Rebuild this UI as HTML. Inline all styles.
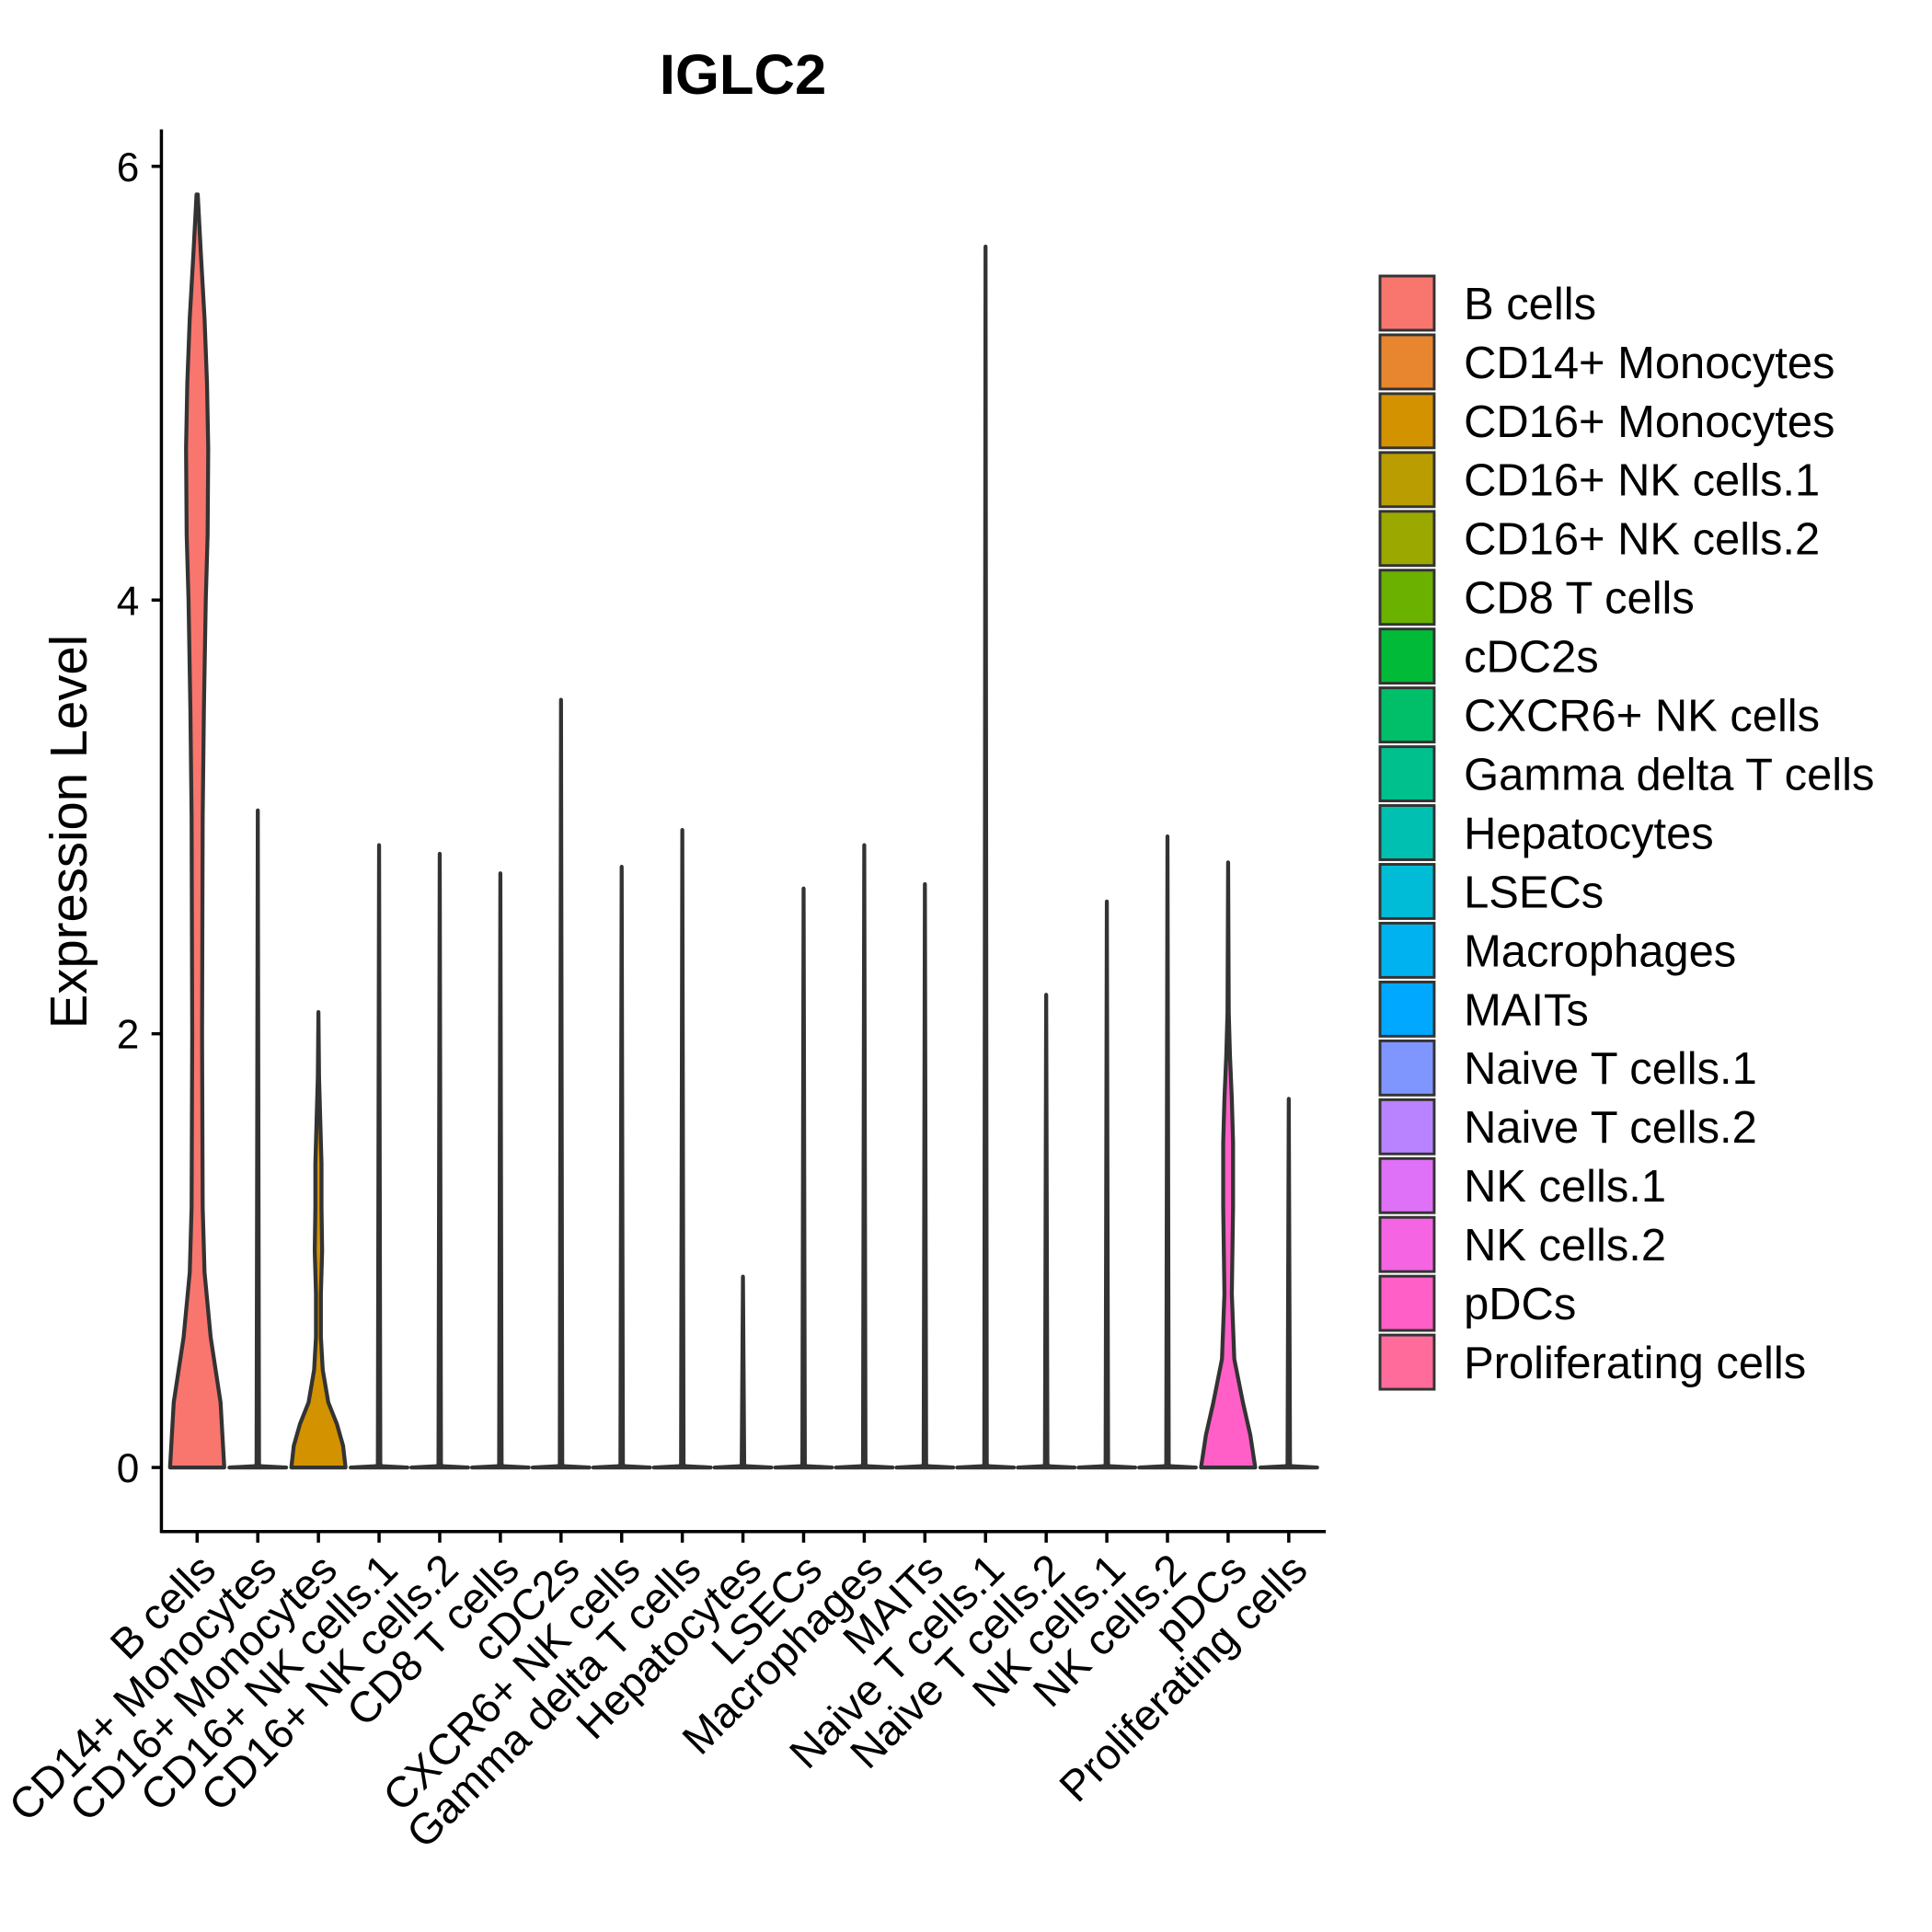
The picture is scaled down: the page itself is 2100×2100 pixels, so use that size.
<!DOCTYPE html>
<html><head><meta charset="utf-8"><style>
html,body{margin:0;padding:0;background:#fff}
svg{display:block;font-family:"Liberation Sans",Arial,sans-serif}
</style></head><body>
<svg id="chart" width="2100" height="2100" viewBox="0 0 1568 1568" xmlns="http://www.w3.org/2000/svg">
<text x="603" y="76" font-size="46" font-weight="bold" text-anchor="middle">IGLC2</text>
<text transform="translate(70,675) rotate(-90)" font-size="42" text-anchor="middle">Expression Level</text>
<g id="violins"></g>
<line x1="131" y1="105" x2="131" y2="1244" stroke="#000" stroke-width="2.6"/>
<line x1="130" y1="1243" x2="1076" y2="1243" stroke="#000" stroke-width="2.6"/>
<g id="yticks"></g>
<g id="xticks"></g>
<g id="legend"></g>
</svg>
<script>
const categories=["B cells","CD14+ Monocytes","CD16+ Monocytes","CD16+ NK cells.1","CD16+ NK cells.2","CD8 T cells","cDC2s","CXCR6+ NK cells","Gamma delta T cells","Hepatocytes","LSECs","Macrophages","MAITs","Naive T cells.1","Naive T cells.2","NK cells.1","NK cells.2","pDCs","Proliferating cells"];
const colors=["#F8766D","#E8852F","#D39200","#BA9D00","#9AA800","#6BB100","#00BA38","#00BF68","#00C08E","#00C0B2","#00BCD6","#00B3F0","#00A9FF","#7F96FF","#B983FF","#DF70F8","#F564E3","#FF5FC6","#FF6C9C"];
const maxValues=[5.87,3.03,2.1,2.87,2.83,2.74,3.54,2.77,2.94,0.88,2.67,2.87,2.69,5.63,2.18,2.61,2.91,2.79,1.70];
const bcellsY=[0,0.3,0.6,0.9,1.2,2.0,3.0,3.5,4.0,4.3,4.7,5.0,5.3,5.6,5.87];
const bcellsW=[22,19,11,6,4.5,4,4.5,5.5,7,8.5,9,8,6,3,0.5];
const mono16Y=[0,0.1,0.2,0.3,0.45,0.6,0.8,1.0,1.2,1.4,1.6,1.8,2.1];
const mono16W=[22,20,15,8,3.5,2,2,3,2.5,2.5,1.5,0.5,0];
const pdcY=[0,0.15,0.3,0.5,0.8,1.2,1.5,1.7,1.9,2.1,2.79];
const pdcW=[22,18,12,5,3,4,4,3,1.5,0.5,0];
const yTicks=[0,2,4,6];
const profiles={0:[bcellsY,bcellsW],2:[mono16Y,mono16W],17:[pdcY,pdcW]};
const NS="http://www.w3.org/2000/svg";
const ys=v=>1191-v*176;
const xs=i=>160+i*49.22;
function mk(t,a,p){const e=document.createElementNS(NS,t);for(const k in a)e.setAttribute(k,a[k]);p.appendChild(e);return e;}
const vg=document.getElementById('violins');
categories.forEach((c,i)=>{
  let Y,W;
  if(profiles[i]){Y=profiles[i][0];W=profiles[i][1];}
  else{Y=[0,0.006,0.015,maxValues[i]];W=[23,2,1,0];}
  const sc=maxValues[i]/Y[Y.length-1];
  const cx=xs(i);let d="";
  for(let k=0;k<Y.length;k++)d+=(k?"L":"M")+(cx+W[k])+","+ys(Y[k]*sc);
  for(let k=Y.length-1;k>=0;k--)d+="L"+(cx-W[k])+","+ys(Y[k]*sc);
  d+="Z";
  const p=mk('path',{d:d,fill:colors[i],stroke:"#333","stroke-width":3.2,"stroke-linejoin":"round"},vg);
  
  
});
const yt=document.getElementById('yticks');
yTicks.forEach(v=>{
  const l=mk('line',{x1:123,x2:131,y1:ys(v),y2:ys(v),stroke:"#000","stroke-width":2.6},yt);
  
  
  const t=mk('text',{x:113,y:ys(v)+12,"font-size":33,"text-anchor":"end",fill:"#000"},yt);
  t.textContent=v;
  
  
});
const xt=document.getElementById('xticks');
categories.forEach((c,i)=>{
  const x=xs(i);
  const l=mk('line',{x1:x,x2:x,y1:1243,y2:1252,stroke:"#000","stroke-width":2.6},xt);
  
  
  const t=mk('text',{transform:`translate(${x+17},${1276}) rotate(-45)`,"font-size":35,"text-anchor":"end",fill:"#000"},xt);
  t.textContent=c;
  
  
});
const lg=document.getElementById('legend');
categories.forEach((c,i)=>{
  const y=224+i*47.75;
  const r=mk('rect',{x:1120,y:y,width:44,height:44,fill:colors[i],stroke:"#333","stroke-width":2.2},lg);
  
  
  const t=mk('text',{x:1188,y:y+35,"font-size":36.5,fill:"#000"},lg);
  t.textContent=c;
  
  
});
</script>
</body></html>
